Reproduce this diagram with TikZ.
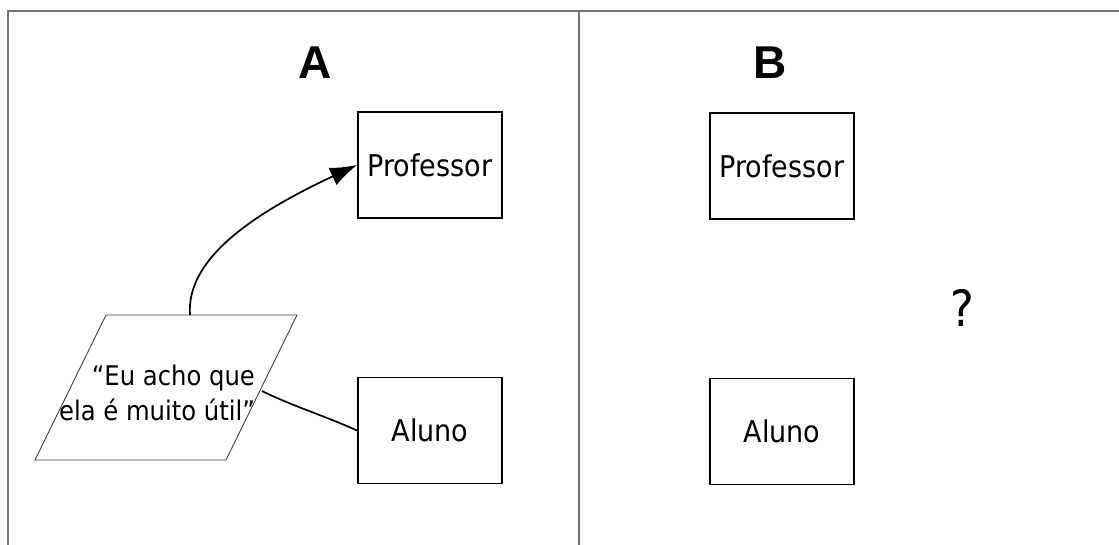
\documentclass[tikz,border=0pt]{standalone}
\usepackage{fontspec}
\setmainfont{DejaVu Sans Condensed}
\newfontfamily\headfont{Liberation Sans}
\usetikzlibrary{arrows.meta}
\begin{document}
\begin{tikzpicture}[x=1pt,y=-1pt,
  framel/.style={draw=black!55,line width=1.3pt},
  actor/.style={draw=black,line width=1.9pt,minimum width=144pt,minimum height=106pt,inner sep=0pt,font=\fontsize{30}{34}\selectfont},
  head/.style={font=\headfont\bfseries\fontsize{46}{50}\selectfont,inner sep=0pt},
  conn/.style={draw=black,line width=1.7pt}]
\useasboundingbox (0,0) rectangle (1119,545);
% frame
\coordinate (tl) at (8,11);
\coordinate (tr) at (1119,11);
\coordinate (bl) at (8,545);
\coordinate (dt) at (579,11);
\coordinate (db) at (579,545);
\draw[framel] (bl) -- (tl) -- (tr);
\draw[framel] (dt) -- (db);
% headings
\node[head] (A) at (315,63) {A};
\node[head] (B) at (770,63) {B};
% boxes
\node[actor] (profA) at (430,165) {Professor};
\node[actor] (alunoA) at (430,430.5) {Aluno};
\node[actor] (profB) at (782,166) {Professor};
\node[actor] (alunoB) at (782,431.5) {Aluno};
% parallelogram
\coordinate (p1) at (106,315);
\coordinate (p2) at (297,315);
\coordinate (p3) at (226,460);
\coordinate (p4) at (35,460);
\draw[draw=black!75,line width=0.9pt] (p1) -- (p2) -- (p3) -- (p4) -- cycle;
\node[align=right,inner sep=0pt,font=\fontsize{27}{35}\selectfont] (quote) at (157,393) {“Eu acho que\\ela é muito útil”};
\coordinate (qtop) at (190,315);
\coordinate (qright) at (262,391);
% connectors
\draw[conn,-{Latex[length=27pt,width=19pt]}] (qtop) .. controls (186,260) and (250,215) .. (profA.west);
\draw[conn] (qright) .. controls (290,405) and (330,418) .. (alunoA.west);
% question mark
\node[font=\fontsize{50}{54}\selectfont,inner sep=0pt] (q) at (962,308) {?};
\end{tikzpicture}
\end{document}
